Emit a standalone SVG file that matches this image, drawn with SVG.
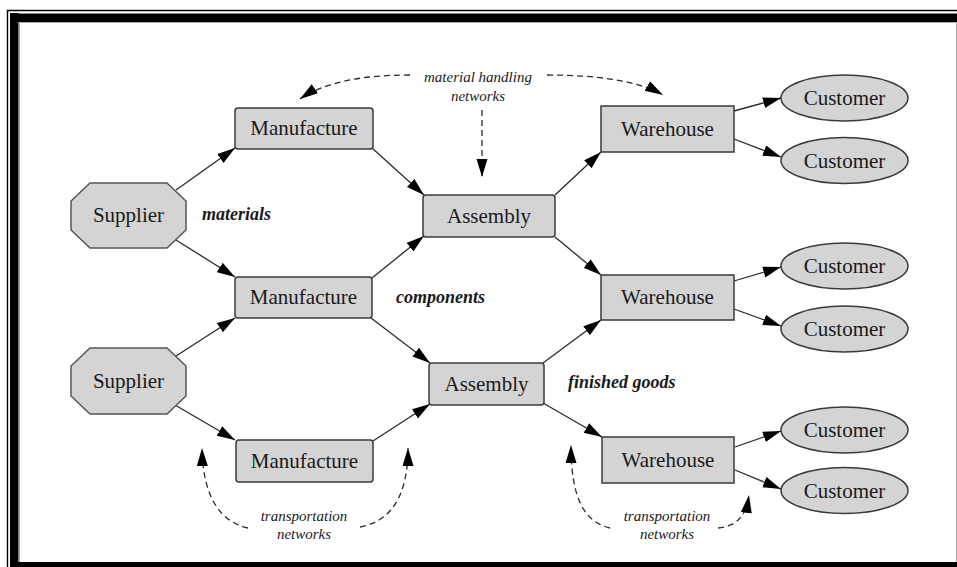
<svg xmlns="http://www.w3.org/2000/svg" width="957" height="567" viewBox="0 0 957 567">
  <style>
    .box { fill: #d4d4d4; stroke: #3a3a3a; stroke-width: 1.5; }
    .oct { fill: #d4d4d4; stroke: #555; stroke-width: 1.5; }
    .lbl { font-family: "Liberation Serif", "Times New Roman", serif; font-size: 21px; fill: #1a1a1a; text-anchor: middle; }
    .flow { font-family: "Liberation Serif", "Times New Roman", serif; font-size: 18px; font-style: italic; font-weight: bold; fill: #1a1a1a; }
    .net { font-family: "Liberation Serif", "Times New Roman", serif; font-size: 15px; font-style: italic; fill: #1a1a1a; text-anchor: middle; }
    .edge { fill: none; stroke: #2a2a2a; stroke-width: 1.3; marker-end: url(#head); }
    .dash { fill: none; stroke: #2a2a2a; stroke-width: 1.3; stroke-dasharray: 6 4; marker-end: url(#head); }
  </style>
  <defs>
    <marker id="head" markerUnits="userSpaceOnUse" markerWidth="18" markerHeight="12" refX="18" refY="5.5" orient="auto">
      <path d="M0,0 L18,5.5 L0,11 Z" fill="#000"/>
    </marker>
  </defs>

  <rect width="957" height="567" fill="#fff"/>

  <!-- page frame -->
  <g id="frame">
    <path d="M957,10.5 H7.5 V567" fill="none" stroke="#000" stroke-width="1.4"/>
    <rect x="10" y="13" width="8.5" height="554" fill="#000"/>
    <rect x="10" y="13.5" width="947" height="8.5" fill="#000"/>
    <rect x="10" y="562" width="947" height="5" fill="#000"/>
    <path d="M19.5,562 V22.5 H956.5 V562" fill="none" stroke="#a8a8a8" stroke-width="1"/>
  </g>

  <!-- connectors -->
  <g id="connectors">
    <path class="edge" d="M176,190 L235,148"/>
    <path class="edge" d="M176,240 L235,277"/>
    <path class="edge" d="M176,356 L235,318"/>
    <path class="edge" d="M175,405 L235,440"/>
    <path class="edge" d="M372,148 L424,195"/>
    <path class="edge" d="M372,278 L424,236"/>
    <path class="edge" d="M371,318 L430,363"/>
    <path class="edge" d="M373,441 L430,404"/>
    <path class="edge" d="M555,195 L601,152"/>
    <path class="edge" d="M555,237 L601,275"/>
    <path class="edge" d="M543,363 L601,320"/>
    <path class="edge" d="M543,403 L602,437"/>
    <path class="edge" d="M734,111 L781,98"/>
    <path class="edge" d="M734,139 L781,157"/>
    <path class="edge" d="M734,281 L781,267"/>
    <path class="edge" d="M734,309 L781,326"/>
    <path class="edge" d="M735,447 L781,431"/>
    <path class="edge" d="M735,470 L781,489"/>

    <!-- material handling networks -->
    <path class="dash" d="M410,75 Q335,75 300,99"/>
    <path class="dash" d="M547,75 Q628,75 663,95"/>
    <path class="dash" d="M482,110 L482,177"/>

    <!-- transportation networks -->
    <path class="dash" d="M248,528 C222,522 203,500 202,448"/>
    <path class="dash" d="M360,527 C388,522 408,500 408,448"/>
    <path class="dash" d="M610,528 C585,522 571,500 571,445"/>
    <path class="dash" d="M718,528 C738,526 746,515 749,495"/>
  </g>

  <!-- suppliers -->
  <g id="supplier1">
    <polygon class="oct" points="90,183 167,183 186,201 186,230 167,248 90,248 71,230 71,201"/>
    <text class="lbl" x="128.5" y="222">Supplier</text>
  </g>
  <g id="supplier2">
    <polygon class="oct" points="90,348 167,348 186,366 186,396 167,414 90,414 71,396 71,366"/>
    <text class="lbl" x="128.5" y="388">Supplier</text>
  </g>

  <!-- manufacturing -->
  <g id="manufacture1">
    <rect class="box" x="235" y="108" width="138" height="41" rx="3"/>
    <text class="lbl" x="304" y="135">Manufacture</text>
  </g>
  <g id="manufacture2">
    <rect class="box" x="235" y="277" width="137" height="41" rx="3"/>
    <text class="lbl" x="303.5" y="304">Manufacture</text>
  </g>
  <g id="manufacture3">
    <rect class="box" x="236" y="440" width="137" height="42" rx="3"/>
    <text class="lbl" x="304.5" y="468">Manufacture</text>
  </g>

  <!-- assembly -->
  <g id="assembly1">
    <rect class="box" x="423" y="195" width="132" height="42" rx="3"/>
    <text class="lbl" x="489" y="223">Assembly</text>
  </g>
  <g id="assembly2">
    <rect class="box" x="429" y="363" width="115" height="42" rx="3"/>
    <text class="lbl" x="486.5" y="391">Assembly</text>
  </g>

  <!-- warehouses -->
  <g id="warehouse1">
    <rect class="box" x="601" y="106" width="133" height="46"/>
    <text class="lbl" x="667.5" y="136">Warehouse</text>
  </g>
  <g id="warehouse2">
    <rect class="box" x="601" y="275" width="133" height="45"/>
    <text class="lbl" x="667.5" y="304">Warehouse</text>
  </g>
  <g id="warehouse3">
    <rect class="box" x="602" y="437" width="132" height="46"/>
    <text class="lbl" x="668" y="467">Warehouse</text>
  </g>

  <!-- customers -->
  <g id="customer1">
    <ellipse class="box" cx="844.5" cy="98" rx="63.5" ry="23"/>
    <text class="lbl" x="844.5" y="105">Customer</text>
  </g>
  <g id="customer2">
    <ellipse class="box" cx="844.5" cy="160.5" rx="63.5" ry="23"/>
    <text class="lbl" x="844.5" y="167.5">Customer</text>
  </g>
  <g id="customer3">
    <ellipse class="box" cx="844.5" cy="266" rx="63.5" ry="23"/>
    <text class="lbl" x="844.5" y="273">Customer</text>
  </g>
  <g id="customer4">
    <ellipse class="box" cx="844.5" cy="329" rx="63.5" ry="23"/>
    <text class="lbl" x="844.5" y="336">Customer</text>
  </g>
  <g id="customer5">
    <ellipse class="box" cx="844.5" cy="430" rx="63.5" ry="23"/>
    <text class="lbl" x="844.5" y="437">Customer</text>
  </g>
  <g id="customer6">
    <ellipse class="box" cx="844.5" cy="490.5" rx="63.5" ry="23"/>
    <text class="lbl" x="844.5" y="497.5">Customer</text>
  </g>

  <!-- flow labels -->
  <g id="labels">
    <text class="flow" x="202" y="220">materials</text>
    <text class="flow" x="396" y="303">components</text>
    <text class="flow" x="568" y="388">finished goods</text>
    <text class="net" x="478" y="82">material handling</text>
    <text class="net" x="478" y="101">networks</text>
    <text class="net" x="304" y="521">transportation</text>
    <text class="net" x="304" y="539">networks</text>
    <text class="net" x="667" y="521">transportation</text>
    <text class="net" x="667" y="539">networks</text>
  </g>
</svg>
